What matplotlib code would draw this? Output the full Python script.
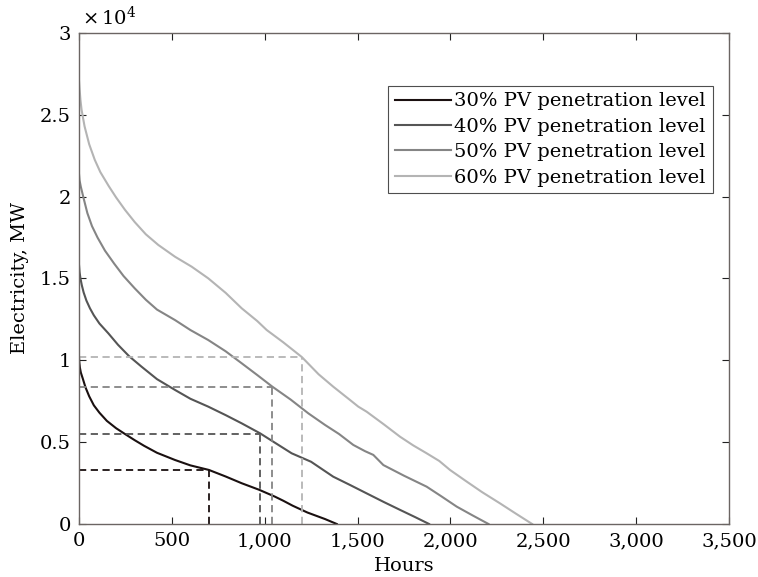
import matplotlib
matplotlib.use("Agg")
import matplotlib.pyplot as plt
from matplotlib.ticker import FixedLocator, FixedFormatter

plt.rcParams['font.family'] = ['DejaVu Serif']
plt.rcParams['mathtext.fontset'] = 'dejavuserif'

labels = ["30% PV penetration level", "40% PV penetration level",
          "50% PV penetration level", "60% PV penetration level"]
colors = ["#1a1010", "#555555", "#858585", "#b4b4b4"]

hours_30 = [0, 2, 5, 10, 20, 35, 55, 80, 110, 150, 200, 250, 300, 350, 420, 517, 600, 700,
            790, 876, 970, 1055, 1100, 1150, 1230, 1325, 1388]
mw_30 = [10200, 9850, 9550, 9250, 8900, 8350, 7800, 7250, 6800, 6300, 5850, 5480, 5120, 4780,
         4350, 3910, 3580, 3300, 2900, 2490, 2090, 1670, 1420, 1120, 700, 300, 0]

hours_40 = [0, 3, 8, 15, 25, 40, 59, 80, 110, 158, 210, 270, 337, 420, 517, 600, 696, 790,
            876, 975, 1060, 1145, 1250, 1369, 1460, 1549, 1640, 1729, 1810, 1885]
mw_40 = [15850, 15400, 15000, 14600, 14150, 13650, 13180, 12750, 12250, 11650, 10950, 10250,
         9610, 8850, 8190, 7650, 7170, 6650, 6150, 5540, 4930, 4320, 3800, 2890, 2380, 1870,
         1350, 860, 420, 0]

hours_50 = [0, 3, 10, 25, 45, 70, 100, 140, 190, 240, 300, 360, 420, 517, 600, 696, 790, 876,
            960, 1040, 1140, 1235, 1325, 1400, 1477, 1540, 1585, 1639, 1750, 1872, 1950, 2034,
            2120, 2205]
mw_50 = [21400, 21000, 20600, 19900, 19000, 18200, 17500, 16700, 15900, 15150, 14400, 13700,
         13100, 12460, 11850, 11240, 10550, 9820, 9100, 8400, 7600, 6760, 6050, 5500, 4830, 4450,
         4220, 3600, 2950, 2280, 1700, 1060, 520, 0]

hours_60 = [0, 3, 8, 14, 30, 55, 85, 115, 160, 200, 248, 300, 360, 427, 517, 607, 696, 790,
            876, 960, 1011, 1100, 1200, 1290, 1369, 1459, 1504, 1549, 1640, 1729, 1800, 1872,
            1940, 1998, 2080, 2170, 2267, 2350, 2440]
mw_60 = [27100, 26600, 25900, 25300, 24300, 23200, 22250, 21500, 20650, 19950, 19190, 18450,
         17700, 17050, 16330, 15720, 15010, 14120, 13180, 12400, 11850, 11100, 10200, 9150,
         8390, 7580, 7170, 6860, 6100, 5330, 4800, 4320, 3850, 3300, 2650, 1950, 1260, 650, 0]

mark_hours = [700, 975, 1040, 1200]
mark_mw = [3300, 5500, 8400, 10200]

xticks = [0, 500, 1000, 1500, 2000, 2500, 3000, 3500]
xticklabels = ["0", "500", "1,000", "1,500", "2,000", "2,500", "3,000", "3,500"]
yticks = [0, 5000, 10000, 15000, 20000, 25000, 30000]
yticklabels = ["0", "0.5", "1", "1.5", "2", "2.5", "3"]

fig = plt.figure(figsize=(7.58, 5.77), dpi=100)
ax = fig.add_axes([0.1042, 0.0919, 0.8575, 0.8509])

series = [(hours_30, mw_30), (hours_40, mw_40), (hours_50, mw_50), (hours_60, mw_60)]
for (h, m), lab, c in zip(series, labels, colors):
    ax.plot(h, m, color=c, lw=1.5, label=lab, solid_joinstyle='round')

for xh, ym, c in zip(mark_hours, mark_mw, colors):
    ax.plot([0, xh], [ym, ym], color=c, lw=1.3, ls=(0, (4, 2.5)))
    ax.plot([xh, xh], [0, ym], color=c, lw=1.3, ls=(0, (4, 2.5)))

ax.set_xlim(0, 3500)
ax.set_ylim(0, 30000)
ax.xaxis.set_major_locator(FixedLocator(xticks))
ax.xaxis.set_major_formatter(FixedFormatter(xticklabels))
ax.yaxis.set_major_locator(FixedLocator(yticks))
ax.yaxis.set_major_formatter(FixedFormatter(yticklabels))

spine_col = "#6b6563"
for s in ax.spines.values():
    s.set_color(spine_col)
    s.set_linewidth(1.0)
ax.tick_params(direction='in', top=True, right=True, length=5, width=0.8,
               color='#222222', labelsize=14, pad=6)

ax.set_xlabel("Hours", fontsize=14, labelpad=5)
ax.set_ylabel("Electricity, MW", fontsize=14, labelpad=8)
ax.text(0.005, 1.008, r"$\times\,10^4$", transform=ax.transAxes, fontsize=14,
        ha='left', va='bottom')

leg = ax.legend(loc='upper right', bbox_to_anchor=(0.975, 0.893), fontsize=14,
                frameon=True, fancybox=False, handlelength=2.9, handletextpad=0.15,
                borderpad=0.35, labelspacing=0.38, borderaxespad=0)
leg.get_frame().set_edgecolor('#222222')
leg.get_frame().set_linewidth(0.8)

fig.savefig("out.png", dpi=100)
